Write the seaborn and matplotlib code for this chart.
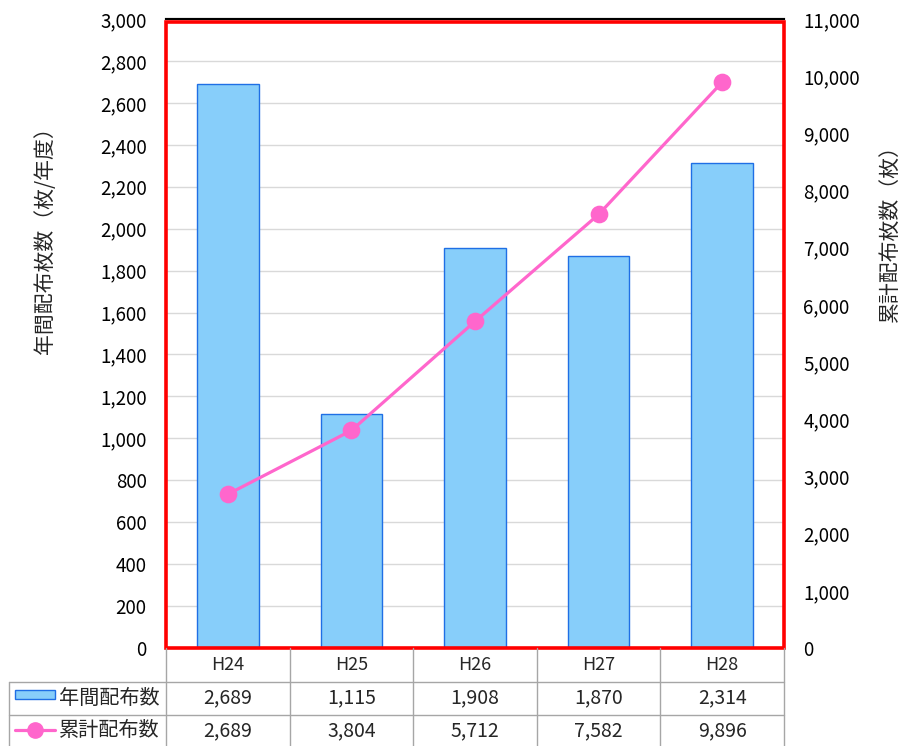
import pandas as pd
import matplotlib.pyplot as plt
import seaborn as sns
from matplotlib.lines import Line2D
from matplotlib.patches import Rectangle
from matplotlib.ticker import FuncFormatter, MultipleLocator

# --- Data ---
years = ["H24", "H25", "H26", "H27", "H28"]
annual = [2689, 1115, 1908, 1870, 2314]
cumulative = [2689, 3804, 5712, 7582, 9896]

bar_name = "年間配布数"
line_name = "累計配布数"

df = pd.DataFrame({"year": years, "annual": annual, "cumulative": cumulative})

sns.set_theme(style="white")
plt.rcParams['font.family'] = ['Noto Sans CJK JP', 'DejaVu Sans']

BAR_FACE = "#87CEFA"
BAR_EDGE = "#1F6FE5"
LINE_COL = "#FF66CC"
GRID_COL = "#D9D9D9"
TABLE_COL = "#A6A6A6"

W, H = 904, 746
fig = plt.figure(figsize=(W / 100, H / 100), dpi=100)

# plot area in pixels
px_l, px_r, px_t, px_b = 166, 784, 19, 648
ax = fig.add_axes([px_l / W, 1 - px_b / H, (px_r - px_l) / W, (px_b - px_t) / H])

# --- Bars (left axis) ---
sns.barplot(data=df, x="year", y="annual", ax=ax, color=BAR_FACE,
            width=0.5, edgecolor=BAR_EDGE, linewidth=1, saturation=1, zorder=2)
ax.set_ylim(0, 3000)
ax.yaxis.set_major_locator(MultipleLocator(200))
ax.yaxis.grid(True, color=GRID_COL, lw=1, zorder=0)
ax.set_axisbelow(True)
ax.set_xlim(-0.5, len(years) - 0.5)

# --- Line (right axis) ---
ax2 = ax.twinx()
sns.pointplot(data=df, x="year", y="cumulative", ax=ax2, color=LINE_COL,
              markers="o", markersize=11, linewidth=2.3, zorder=3)
ax2.set_ylim(0, 11000)
ax2.yaxis.set_major_locator(MultipleLocator(1000))
ax2.set_xlim(-0.5, len(years) - 0.5)

fmt = FuncFormatter(lambda v, p: f"{int(v):,}")
for a in (ax, ax2):
    a.yaxis.set_major_formatter(fmt)
    a.set_xlabel("")
    a.set_ylabel("")
    a.set_xticks([])
    a.tick_params(axis="y", length=0, labelsize=13.5, colors="black")
    for s in ("left", "right", "bottom"):
        a.spines[s].set_visible(False)
    a.spines["top"].set_color("black")
    a.spines["top"].set_linewidth(1.5)
ax.tick_params(axis="y", pad=14)
ax2.tick_params(axis="y", pad=14)

# red plot-area frame
ax2.add_patch(Rectangle((0, 0), 1, 1 - 3 / (px_b - px_t), transform=ax2.transAxes,
                        fill=False, ec="red", lw=2.6, clip_on=False, zorder=10))

# axis titles
fig.text(45 / W, 1 - 235 / H, "年間配布枚数（枚/年度）", rotation=90,
         ha="center", va="center", fontsize=15)
fig.text(890 / W, 1 - 228 / H, "累計配布枚数（枚）", rotation=90,
         ha="center", va="center", fontsize=15)

# --- Data table ---
def fx(x):
    return x / W

def fy(y):
    return 1 - y / H

row_lines = [682, 715]
col_w = (px_r - px_l) / len(years)
tbl_left = 9
for y in row_lines:
    fig.add_artist(Line2D([fx(tbl_left), fx(px_r)], [fy(y), fy(y)], color=TABLE_COL, lw=1))
for i in range(len(years) + 1):
    x = px_l + i * col_w
    fig.add_artist(Line2D([fx(x), fx(x)], [fy(px_b), fy(H)], color=TABLE_COL, lw=1))
fig.add_artist(Line2D([fx(tbl_left), fx(tbl_left)], [fy(row_lines[0]), fy(H)], color=TABLE_COL, lw=1))

row_y = [665, 698, 731]
for i, yr in enumerate(years):
    cx = fx(px_l + (i + 0.5) * col_w)
    fig.text(cx, fy(row_y[0]), yr, ha="center", va="center", fontsize=13)
    fig.text(cx, fy(row_y[1]), f"{annual[i]:,}", ha="center", va="center", fontsize=14)
    fig.text(cx, fy(row_y[2]), f"{cumulative[i]:,}", ha="center", va="center", fontsize=14)

# legend keys in table
fig.add_artist(Rectangle((fx(15), fy(699)), fx(40), 9 / H, facecolor=BAR_FACE,
                         edgecolor=BAR_EDGE, lw=1))
fig.add_artist(Line2D([fx(15), fx(55)], [fy(730), fy(730)], color=LINE_COL, lw=2.3))
fig.add_artist(Line2D([fx(35)], [fy(730)], color=LINE_COL, marker="o", markersize=11, lw=0))
fig.text(fx(59), fy(row_y[1]), bar_name, ha="left", va="center", fontsize=14.5)
fig.text(fx(59), fy(row_y[2]), line_name, ha="left", va="center", fontsize=14.5)

plt.savefig("out.png", dpi=100)
